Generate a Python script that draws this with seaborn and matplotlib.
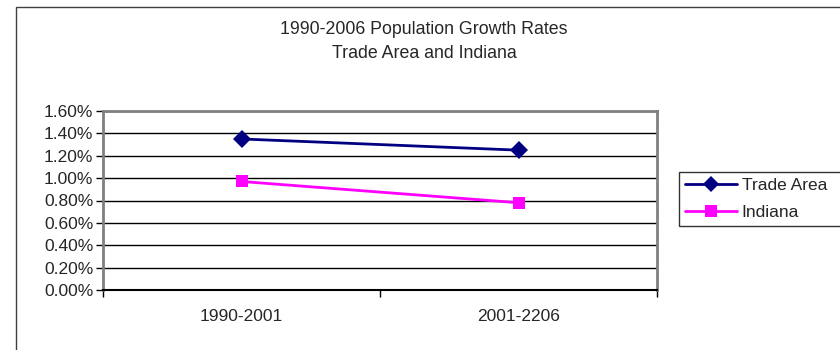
import matplotlib
matplotlib.use("Agg")
import matplotlib.pyplot as plt
import seaborn as sns
import pandas as pd
from matplotlib.patches import Rectangle
from matplotlib.ticker import FuncFormatter, FixedLocator

periods = ["1990-2001", "2001-2206"]
trade_area = [0.0135, 0.0125]
indiana = [0.0097, 0.0078]
series_names = ["Trade Area", "Indiana"]

sns.set_style("white")
plt.rcParams["font.family"] = ["Liberation Sans", "DejaVu Sans"]

df = pd.DataFrame({
    "period": periods * 2,
    "pos": list(range(len(periods))) * 2,
    "value": trade_area + indiana,
    "series": [series_names[0]] * len(periods) + [series_names[1]] * len(periods),
})

fig = plt.figure(figsize=(8.4, 3.5), dpi=100)
ax = fig.add_axes([103 / 840, 1 - 290 / 350, (657 - 103) / 840, (290 - 111) / 350])

palette = {"Trade Area": "#000080", "Indiana": "#FF00FF"}
markers = {"Trade Area": "D", "Indiana": "s"}
sns.lineplot(data=df, x="pos", y="value", hue="series", style="series",
             palette=palette, markers=markers, dashes=False, markersize=9,
             linewidth=2, markeredgewidth=0, ax=ax, legend=True)

ax.set_xlim(-0.5, 1.5)
ax.set_ylim(0, 0.016)
ax.yaxis.set_major_locator(FixedLocator([i * 0.002 for i in range(9)]))
ax.yaxis.set_major_formatter(FuncFormatter(lambda v, p: f"{v*100:.2f}%"))
ax.grid(axis="y", color="black", linewidth=1)
ax.set_axisbelow(True)

ax.xaxis.set_major_locator(FixedLocator([-0.5, 0.5, 1.5]))
ax.set_xticklabels(["", "", ""])
ax.xaxis.set_minor_locator(FixedLocator([0, 1]))
ax.set_xticklabels(periods, minor=True)
ax.tick_params(axis="x", which="major", length=5, width=1, color="black", direction="out", bottom=True)
ax.tick_params(axis="x", which="minor", length=0, pad=14, labelsize=12.5)
ax.tick_params(axis="y", length=5, width=1, color="black", direction="out", left=True, labelsize=12.5, pad=2)
ax.set_xlabel("")
ax.set_ylabel("")

for s in ["top", "right", "left"]:
    ax.spines[s].set_color("#808080")
    ax.spines[s].set_linewidth(2)
ax.spines["bottom"].set_color("black")
ax.spines["bottom"].set_linewidth(1.5)

leg = ax.legend(loc="upper left", bbox_to_anchor=(679 / 840, 1 - 172 / 350, 200 / 840, 0.0),
                bbox_transform=fig.transFigure, mode="expand", frameon=True, fancybox=False,
                fontsize=12.5, handlelength=3.0, handletextpad=0.25, borderpad=0.35,
                labelspacing=0.65, borderaxespad=0, markerscale=0.9)
leg.get_frame().set_edgecolor("black")
leg.get_frame().set_linewidth(1)

fig.text(0.5 + 0.005, 1 - 29 / 350, "1990-2006 Population Growth Rates", ha="center", va="center", fontsize=12.8)
fig.text(0.5 + 0.005, 1 - 53 / 350, "Trade Area and Indiana", ha="center", va="center", fontsize=12.8)

fig.patches.append(Rectangle((16 / 840, -0.1), 1.2, 1 - 7 / 350 + 0.1, transform=fig.transFigure,
                             fill=False, edgecolor="#404040", linewidth=1))

fig.savefig("out.png", dpi=100)
